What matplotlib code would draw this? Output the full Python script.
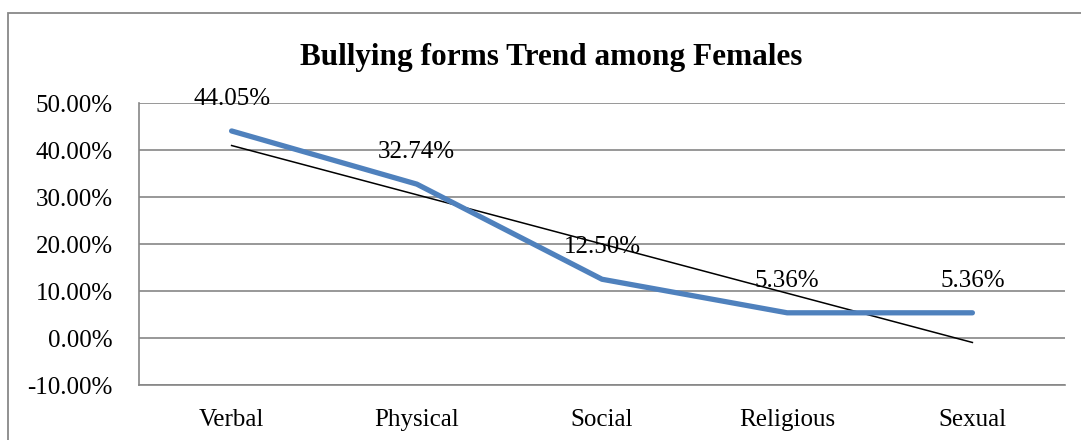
import numpy as np
import matplotlib.pyplot as plt
from matplotlib.patches import Rectangle
from matplotlib.ticker import FuncFormatter

# Datos del gráfico
categories = ["Verbal", "Physical", "Social", "Religious", "Sexual"]
values = [44.05, 32.74, 12.50, 5.36, 5.36]
y_ticks = [-10, 0, 10, 20, 30, 40, 50]

plt.rcParams['font.family'] = ['Liberation Serif', 'DejaVu Serif']

fig = plt.figure(figsize=(10.81, 4.4), dpi=100)
ax = fig.add_axes([139 / 1081, 1 - 385 / 440, (1065 - 139) / 1081, (385 - 103) / 440])

x = np.arange(len(categories))

# Línea de tendencia lineal (como en Excel)
slope, intercept = np.polyfit(x, values, 1)
ax.plot(x, slope * x + intercept, color="black", lw=1.1, zorder=3)

# Serie principal
ax.plot(x, values, color="#4F81BD", lw=3.8, solid_capstyle="round", solid_joinstyle="round", zorder=4)

for xi, v in zip(x, values):
    ax.annotate(f"{v:.2f}%", (xi, v), xytext=(0, 23), textcoords="offset points",
                ha="center", va="center", fontsize=18, zorder=5)

ax.set_xlim(-0.5, len(categories) - 0.5)
ax.set_ylim(-10, 50)
ax.set_yticks(y_ticks)
ax.yaxis.set_major_formatter(FuncFormatter(lambda v, p: f"{v:.2f}%"))
ax.set_xticks(x)
ax.set_xticklabels(categories)
ax.tick_params(axis="both", length=0, labelsize=18)
ax.tick_params(axis="y", pad=19)
ax.tick_params(axis="x", pad=17)

ax.grid(axis="y", color="#868686", lw=1.2)
ax.set_axisbelow(True)
for s in ["top", "right"]:
    ax.spines[s].set_visible(False)
for s in ["left", "bottom"]:
    ax.spines[s].set_color("#868686")
    ax.spines[s].set_linewidth(1.2)

fig.text(551 / 1081, 1 - 57 / 440, "Bullying forms Trend among Females",
         ha="center", va="center", fontsize=22.5, fontweight="bold")

# Borde del área del gráfico
fig.patches.append(Rectangle((8 / 1081, -0.2), 1.2, 1 - 13 / 440 + 0.2, transform=fig.transFigure,
                             fill=False, edgecolor="#888888", lw=1.3))

fig.savefig("out.png", dpi=100)
